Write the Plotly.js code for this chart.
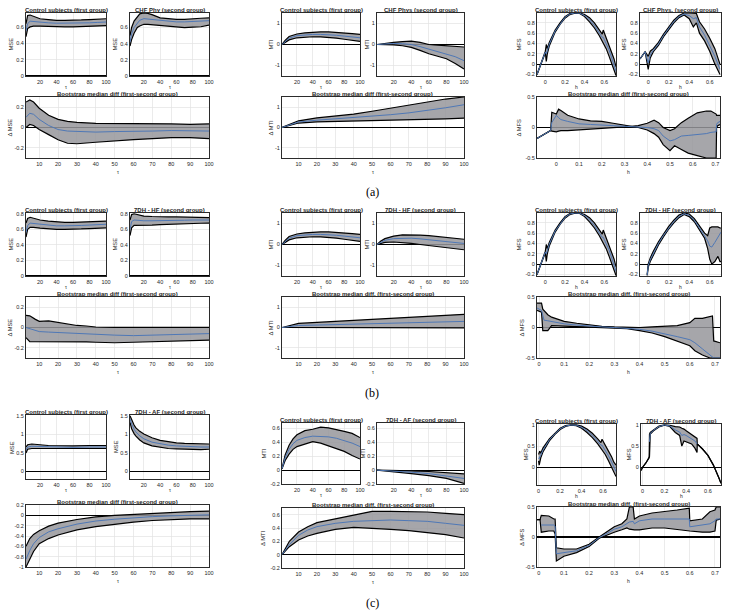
<!DOCTYPE html>
<html><head><meta charset="utf-8">
<script src="https://cdn.plot.ly/plotly-3.0.1.min.js"></script>
<style>html,body{margin:0;padding:0;background:#fff}#chart{width:730px;height:613px}</style>
</head><body><div id="chart"></div>
<script>
// ================= DATA =================
// ---- MSE (tau axis) ----
const tauMseCtrlA = [3,5,8,12,20,30,40,50,60,70,80,90,100];
const mseCtrlAUp  = [0.64,0.74,0.745,0.73,0.70,0.69,0.68,0.68,0.68,0.685,0.69,0.695,0.70];
const mseCtrlAMed = [0.55,0.64,0.67,0.665,0.655,0.65,0.645,0.645,0.645,0.645,0.65,0.655,0.66];
const mseCtrlALo  = [0.48,0.58,0.60,0.61,0.61,0.605,0.60,0.60,0.60,0.605,0.61,0.612,0.615];

const tauMseChf = [3,5,8,12,15,20,25,30,40,50,60,70,80,90,100];
const mseChfUp  = [0.50,0.60,0.68,0.74,0.77,0.78,0.775,0.76,0.72,0.71,0.70,0.70,0.71,0.715,0.72];
const mseChfMed = [0.42,0.52,0.60,0.66,0.69,0.71,0.705,0.70,0.685,0.675,0.67,0.67,0.675,0.68,0.685];
const mseChfLo  = [0.37,0.45,0.53,0.60,0.62,0.64,0.64,0.635,0.625,0.615,0.61,0.60,0.605,0.61,0.63];

const tauMseDiffA = [3,5,7,10,15,20,25,30,40,50,60,70,80,90,100];
const mseDiffAUp  = [0.25,0.27,0.25,0.19,0.12,0.08,0.06,0.05,0.04,0.04,0.04,0.035,0.035,0.03,0.035];
const mseDiffAMed = [0.10,0.14,0.13,0.08,0.02,-0.02,-0.035,-0.04,-0.045,-0.04,-0.04,-0.035,-0.03,-0.03,-0.035];
const mseDiffALo  = [0.00,0.03,0.02,-0.02,-0.07,-0.12,-0.155,-0.16,-0.145,-0.13,-0.12,-0.11,-0.10,-0.10,-0.11];

const tauMseB = [3,5,8,12,20,30,40,50,60,70,80,90,100];
const mseCtrlBUp  = [0.68,0.74,0.755,0.745,0.72,0.705,0.695,0.69,0.69,0.695,0.70,0.70,0.705];
const mseCtrlBMed = [0.56,0.65,0.68,0.675,0.665,0.655,0.645,0.645,0.645,0.65,0.655,0.66,0.665];
const mseCtrlBLo  = [0.50,0.60,0.625,0.625,0.615,0.605,0.60,0.60,0.60,0.605,0.61,0.615,0.62];
const mseHfUp  = [0.72,0.79,0.80,0.79,0.77,0.765,0.76,0.76,0.76,0.758,0.755,0.752,0.75];
const mseHfMed = [0.60,0.70,0.72,0.715,0.71,0.71,0.71,0.712,0.715,0.717,0.72,0.72,0.72];
const mseHfLo  = [0.52,0.62,0.65,0.65,0.65,0.655,0.66,0.665,0.67,0.672,0.675,0.678,0.68];

const tauMseDiffB = [3,5,8,10,15,20,25,30,35,40,50,60,70,80,90,100];
const mseDiffBUp  = [0.12,0.115,0.08,0.06,0.065,0.05,0.04,0.02,0.015,0.005,0.002,0.002,0.002,0.002,0.002,0.002];
const mseDiffBMed = [0.0,-0.01,-0.03,-0.04,-0.045,-0.05,-0.055,-0.06,-0.065,-0.07,-0.075,-0.08,-0.075,-0.07,-0.065,-0.06];
const mseDiffBLo  = [-0.10,-0.14,-0.14,-0.14,-0.135,-0.135,-0.138,-0.14,-0.142,-0.145,-0.15,-0.145,-0.14,-0.135,-0.13,-0.125];

const tauMseCtrlC = [3,5,10,15,20,30,40,50,60,80,100];
const mseCtrlCUp  = [0.66,0.72,0.74,0.74,0.72,0.70,0.69,0.69,0.69,0.70,0.70];
const mseCtrlCMed = [0.58,0.66,0.68,0.675,0.67,0.66,0.65,0.65,0.65,0.66,0.66];
const mseCtrlCLo  = [0.50,0.60,0.62,0.62,0.62,0.61,0.60,0.60,0.60,0.61,0.62];

const tauMseAf = [3,5,8,10,15,20,30,40,50,60,70,80,90,100];
const mseAfUp  = [1.50,1.38,1.25,1.18,1.08,1.01,0.91,0.84,0.80,0.77,0.755,0.745,0.74,0.74];
const mseAfMed = [1.42,1.28,1.14,1.07,0.96,0.88,0.79,0.74,0.71,0.69,0.675,0.665,0.66,0.66];
const mseAfLo  = [1.32,1.15,1.02,0.96,0.85,0.77,0.69,0.65,0.62,0.61,0.60,0.59,0.59,0.60];

const tauMseDiffC = [3,5,7,10,15,20,30,40,50,60,70,80,90,100];
const mseDiffCUp  = [-0.60,-0.45,-0.37,-0.30,-0.21,-0.15,-0.08,-0.03,0.0,0.02,0.04,0.06,0.07,0.08];
const mseDiffCMed = [-0.85,-0.68,-0.55,-0.43,-0.32,-0.26,-0.17,-0.11,-0.075,-0.045,-0.025,-0.01,0.0,0.01];
const mseDiffCLo  = [-1.0,-0.85,-0.70,-0.55,-0.45,-0.38,-0.28,-0.22,-0.17,-0.13,-0.10,-0.08,-0.07,-0.07];

// ---- MTI (tau axis) ----
const tauMti = [1,5,10,20,30,40,50,60,70,80,90,100];
const mtiCtrlUp  = [0,0.2,0.38,0.5,0.55,0.58,0.6,0.6,0.58,0.55,0.52,0.48];
const mtiCtrlMed = [0,0.15,0.3,0.42,0.46,0.48,0.48,0.47,0.44,0.4,0.36,0.32];
const mtiCtrlLo  = [0,0.1,0.22,0.32,0.36,0.37,0.36,0.34,0.3,0.25,0.2,0.15];

const tauMtiChf = [1,10,20,30,40,50,60,70,80,90,100];
const mtiChfUp  = [0,0.06,0.1,0.14,0.16,0.1,0.0,-0.03,-0.06,-0.09,-0.12];
const mtiChfMed = [0,0.03,0.05,0.04,0.0,-0.1,-0.22,-0.33,-0.43,-0.58,-0.77];
const mtiChfLo  = [0,0.0,-0.02,-0.06,-0.14,-0.28,-0.44,-0.56,-0.68,-0.9,-1.17];

const mtiDiffAUp  = [0,0.15,0.33,0.47,0.56,0.66,0.8,0.95,1.1,1.25,1.4,1.5];
const mtiDiffAMed = [0,0.12,0.27,0.36,0.42,0.48,0.55,0.63,0.72,0.83,0.97,1.12];
const mtiDiffALo  = [0,0.1,0.22,0.28,0.3,0.31,0.31,0.33,0.35,0.38,0.42,0.46];

const mtiHfUp  = [0,0.15,0.28,0.4,0.46,0.47,0.45,0.42,0.38,0.33,0.28,0.25];
const mtiHfMed = [0,0.1,0.2,0.28,0.3,0.3,0.27,0.23,0.18,0.13,0.08,0.05];
const mtiHfLo  = [0,0.05,0.1,0.12,0.1,0.05,0.0,-0.05,-0.1,-0.15,-0.2,-0.25];

const mtiDiffBUp  = [0,0.1,0.2,0.25,0.3,0.35,0.4,0.45,0.5,0.55,0.6,0.65];
const mtiDiffBMed = [0,0.05,0.1,0.12,0.14,0.17,0.2,0.22,0.24,0.26,0.28,0.3];
const mtiDiffBLo  = [0,0.0,-0.01,-0.02,-0.02,-0.02,-0.02,-0.02,-0.02,-0.02,-0.02,-0.02];

const tauMtiC = [1,3,5,10,15,20,30,40,50,60,70,80,90,100];
const mtiCtrlCUp  = [0.02,0.12,0.22,0.36,0.45,0.51,0.57,0.59,0.62,0.61,0.59,0.56,0.53,0.47];
const mtiCtrlCMed = [0.02,0.1,0.18,0.3,0.38,0.43,0.47,0.49,0.49,0.48,0.46,0.43,0.39,0.34];
const mtiCtrlCLo  = [0.02,0.08,0.14,0.23,0.3,0.34,0.38,0.41,0.39,0.35,0.32,0.27,0.21,0.16];

const tauMtiAf = [1,20,40,60,80,100];
const mtiAfUp  = [0,0.0,-0.01,-0.02,-0.04,-0.055];
const mtiAfMed = [0,-0.01,-0.03,-0.05,-0.08,-0.12];
const mtiAfLo  = [0,-0.02,-0.05,-0.08,-0.12,-0.19];

const tauMtiDiffC = [1,5,10,15,20,30,40,50,60,70,80,90,100];
const mtiDiffCUp  = [0,0.2,0.34,0.42,0.48,0.54,0.59,0.65,0.65,0.65,0.64,0.62,0.6];
const mtiDiffCMed = [0,0.15,0.29,0.37,0.42,0.47,0.5,0.515,0.52,0.51,0.5,0.47,0.44];
const mtiDiffCLo  = [0,0.12,0.22,0.28,0.32,0.38,0.41,0.4,0.38,0.36,0.33,0.3,0.25];

// ---- MFS (h axis) ----
const hMfsCtrl   = [-0.085,-0.04,0.0,0.01,0.02,0.04,0.1,0.15,0.2,0.25,0.3,0.35,0.4,0.45,0.5,0.55,0.58,0.59,0.62,0.65,0.68,0.7,0.72];
const mfsCtrlUp  = [-0.2,0.03,0.25,0.38,0.3,0.42,0.66,0.8,0.92,0.98,0.99,0.99,0.96,0.9,0.8,0.66,0.58,0.66,0.5,0.38,0.22,0.1,-0.05];
const mfsCtrlMed = [-0.2,0.03,0.235,0.2,0.25,0.385,0.64,0.785,0.905,0.97,0.99,0.985,0.94,0.86,0.75,0.6,0.52,0.52,0.4,0.27,0.1,-0.01,-0.14];
const mfsCtrlLo  = [-0.2,0.03,0.22,0.05,0.2,0.35,0.62,0.77,0.89,0.96,0.985,0.98,0.92,0.82,0.7,0.55,0.45,0.42,0.3,0.15,0.0,-0.12,-0.22];

const hMfsChf   = [-0.08,-0.03,0.0,0.02,0.05,0.1,0.15,0.2,0.25,0.3,0.35,0.4,0.44,0.47,0.5,0.55,0.6,0.65,0.7];
const mfsChfUp  = [0.1,0.24,0.15,0.25,0.3,0.42,0.58,0.71,0.85,0.94,0.99,0.99,0.98,0.98,0.82,0.68,0.5,0.3,0.0];
const mfsChfMed = [0.1,0.24,0.02,0.18,0.27,0.39,0.555,0.685,0.825,0.92,0.97,0.94,0.88,0.9,0.72,0.56,0.37,0.15,-0.1];
const mfsChfLo  = [0.1,0.24,-0.1,0.12,0.24,0.36,0.53,0.66,0.8,0.9,0.95,0.88,0.72,0.8,0.6,0.45,0.25,0.0,-0.2];

const hMfsDiffA   = [-0.085,-0.05,-0.025,-0.02,0.0,0.01,0.02,0.05,0.1,0.15,0.2,0.25,0.3,0.33,0.36,0.4,0.43,0.45,0.47,0.5,0.52,0.55,0.58,0.62,0.66,0.68,0.703,0.705,0.71,0.72];
const mfsDiffAUp  = [-0.18,-0.11,-0.05,0.25,0.22,0.3,0.28,0.2,0.14,0.11,0.1,0.07,0.04,0.02,0.03,0.07,0.12,0.08,0.0,-0.05,-0.02,0.08,0.15,0.24,0.27,0.27,0.22,0.2,0.2,0.2];
const mfsDiffAMed = [-0.18,-0.11,-0.05,0.08,0.2,0.16,0.13,0.1,0.06,0.05,0.04,0.03,0.02,0.02,0.015,0.0,-0.02,-0.05,-0.14,-0.22,-0.2,-0.14,-0.13,-0.12,-0.1,-0.08,-0.07,0.05,0.08,0.1];
const mfsDiffALo  = [-0.18,-0.11,-0.05,-0.06,-0.07,-0.06,-0.05,-0.05,-0.04,-0.03,-0.02,0.0,0.01,0.02,0.0,-0.04,-0.1,-0.16,-0.28,-0.38,-0.3,-0.36,-0.42,-0.46,-0.5,-0.5,-0.5,0.0,0.03,0.05];

const hMfsHf   = [-0.01,0.0,0.02,0.05,0.1,0.15,0.2,0.25,0.3,0.35,0.4,0.45,0.5,0.55,0.58,0.6,0.62,0.65,0.68,0.7,0.71];
const mfsHfUp  = [-0.2,0.0,0.12,0.25,0.43,0.59,0.73,0.85,0.95,0.99,0.97,0.88,0.74,0.6,0.55,0.7,0.72,0.72,0.72,0.7,0.7];
const mfsHfMed = [-0.21,-0.03,0.085,0.215,0.4,0.56,0.705,0.825,0.925,0.975,0.945,0.85,0.7,0.55,0.45,0.35,0.33,0.42,0.52,0.6,0.62];
const mfsHfLo  = [-0.22,-0.06,0.05,0.18,0.37,0.53,0.68,0.8,0.9,0.96,0.92,0.82,0.67,0.5,0.3,0.1,0.0,0.05,0.15,0.05,0.05];

const hMfsDiffB   = [-0.008,0.01,0.015,0.02,0.035,0.05,0.1,0.15,0.2,0.25,0.3,0.35,0.4,0.45,0.5,0.55,0.6,0.62,0.65,0.68,0.69,0.695,0.72];
const mfsDiffBUp  = [0.4,0.4,0.3,0.28,0.21,0.17,0.1,0.07,0.04,0.02,0.01,0.0,0.0,0.01,0.02,0.03,0.08,0.15,0.15,0.18,0.19,-0.22,-0.25];
const mfsDiffBMed = [0.32,0.28,0.2,0.12,0.11,0.1,0.06,0.04,0.02,0.01,0.0,-0.01,-0.03,-0.06,-0.1,-0.15,-0.2,-0.25,-0.35,-0.45,-0.47,-0.5,-0.5];
const mfsDiffBLo  = [0.28,0.25,-0.05,-0.05,-0.05,0.03,0.02,0.01,0.0,-0.01,-0.01,-0.02,-0.05,-0.09,-0.15,-0.22,-0.3,-0.38,-0.45,-0.5,-0.5,-0.5,-0.5];

const hMfsCtrlC   = [0.0,0.005,0.01,0.02,0.04,0.1,0.15,0.2,0.25,0.3,0.35,0.4,0.45,0.5,0.55,0.58,0.59,0.62,0.65,0.68,0.7,0.72];
const mfsCtrlCUp  = [0.3,0.35,0.38,0.33,0.45,0.67,0.8,0.92,0.98,1.0,1.0,0.97,0.9,0.8,0.67,0.58,0.66,0.5,0.38,0.24,0.12,0.05];
const mfsCtrlCMed = [0.22,0.2,0.24,0.28,0.4,0.645,0.785,0.905,0.97,0.995,0.99,0.945,0.86,0.75,0.61,0.52,0.52,0.4,0.27,0.12,0.0,-0.1];
const mfsCtrlCLo  = [0.15,0.05,0.1,0.22,0.36,0.62,0.77,0.89,0.96,0.99,0.98,0.92,0.82,0.7,0.55,0.45,0.42,0.3,0.15,0.0,-0.12,-0.22];

const hMfsAf   = [-0.015,0.0,0.03,0.06,0.063,0.07,0.1,0.15,0.2,0.25,0.3,0.34,0.36,0.38,0.4,0.45,0.48,0.5,0.502,0.55,0.6,0.65,0.7,0.72];
const mfsAfUp  = [-0.08,0.0,0.1,0.22,0.78,0.82,0.88,0.97,1.0,0.99,0.96,0.95,0.92,0.9,0.86,0.77,0.72,0.68,0.55,0.43,0.28,0.05,-0.25,-0.38];
const mfsAfMed = [null,null,null,null,0.6,0.8,0.87,0.96,0.995,0.975,0.88,0.83,0.75,0.77,0.75,0.68,0.62,0.55,null,null,null,null,null,null];
const mfsAfLo  = [-0.08,0.0,0.1,0.22,0.25,0.78,0.86,0.95,0.99,0.96,0.82,0.75,0.5,0.62,0.6,0.55,0.45,0.35,0.55,0.43,0.28,0.05,-0.25,-0.38];

const hMfsDiffC   = [-0.007,0.005,0.01,0.04,0.06,0.065,0.07,0.1,0.15,0.2,0.24,0.28,0.3,0.33,0.35,0.36,0.375,0.38,0.4,0.45,0.5,0.55,0.598,0.6,0.65,0.68,0.7,0.705,0.72];
const mfsDiffCUp  = [0.29,0.29,0.36,0.35,0.3,0.3,-0.18,-0.2,-0.2,-0.12,0.0,0.12,0.17,0.22,0.3,0.5,0.5,0.3,0.35,0.4,0.42,0.45,0.48,0.27,0.3,0.42,0.45,0.5,0.5];
const mfsDiffCMed = [null,null,0.2,0.2,0.2,0.18,-0.28,-0.26,-0.23,-0.14,-0.01,0.08,0.13,0.17,0.22,0.25,0.26,0.22,0.27,0.3,0.3,0.3,0.3,0.17,0.2,0.22,0.27,0.3,0.3];
const mfsDiffCLo  = [0.29,0.29,0.08,0.1,0.1,0.05,-0.4,-0.32,-0.26,-0.16,-0.02,0.05,0.08,0.12,0.15,0.13,0.12,0.12,0.12,0.15,0.15,0.12,0.1,0.1,0.08,0.08,0.1,0.28,0.3];

// ---- tick labels ----
const tickTauTop = [20,40,60,80,100];
const tickTauBot = [10,20,30,40,50,60,70,80,90,100];
const tickH4 = [0,0.2,0.4,0.6];
const tickH8 = [0,0.1,0.2,0.3,0.4,0.5,0.6,0.7];
const tickMseTopA = [0,0.2,0.4,0.6];
const tickMseTopB = [0,0.2,0.4,0.6,0.8];
const tickMseTopC = [0,0.5,1,1.5];
const tickMseDiffAB = [-0.2,0,0.2];
const tickMseDiffC = [-1,-0.8,-0.6,-0.4,-0.2,0,0.2];
const tickMtiAB = [-1,0,1];
const tickMtiC = [-0.2,0,0.2,0.4,0.6];
const tickMfsTopAB = [-0.2,0,0.2,0.4,0.6,0.8];
const tickMfsTopC = [0,0.5,1];
const tickMfsDiff = [-0.5,0,0.5];

// ================= LAYOUT / BUILD =================
const W = 730, H = 613;
const CTRL = 'Control subjects (first group)';
const BS = 'Bootstrap median diff (first-second group)';
const BSd = 'Bootstrap median diff. (first-second group)';

function P(box, x, up, med, lo, xr, yr, xt, yt, title, ylab, ylabX) {
  return {box, x, up, med, lo, xr, yr, xt, yt, title, ylab, ylabX};
}
const panels = [
  // row a - MSE
  P([26,106,13,76], tauMseCtrlA, mseCtrlAUp, mseCtrlAMed, mseCtrlALo, [3,100], [0,0.77], tickTauTop, tickMseTopA, CTRL, 'MSE', 10),
  P([130,209,13,76], tauMseChf, mseChfUp, mseChfMed, mseChfLo, [3,100], [0,0.78], tickTauTop, tickMseTopA, 'CHF Phy (second group)', 'MSE', 114),
  P([26,209,97,158], tauMseDiffA, mseDiffAUp, mseDiffAMed, mseDiffALo, [3,100], [-0.3,0.3], tickTauBot, tickMseDiffAB, BS, 'Δ MSE', 9),
  // row a - MTI
  P([282,360,13,76], tauMti, mtiCtrlUp, mtiCtrlMed, mtiCtrlLo, [1,100], [-1.5,1.5], tickTauTop, tickMtiAB, CTRL, 'MTI', 270),
  P([377,464,13,76], tauMtiChf, mtiChfUp, mtiChfMed, mtiChfLo, [1,100], [-1.5,1.5], tickTauTop, tickMtiAB, 'CHF Phys (second group)', 'MTI', 366),
  P([282,464,97,158], tauMti, mtiDiffAUp, mtiDiffAMed, mtiDiffALo, [1,100], [-1.5,1.5], tickTauBot, tickMtiAB, BS, 'Δ MTI', 270),
  // row a - MFS
  P([537,616,13,76], hMfsCtrl, mfsCtrlUp, mfsCtrlMed, mfsCtrlLo, [-0.085,0.72], [-0.23,0.99], tickH4, tickMfsTopAB, CTRL, 'MFS', 518),
  P([640,721,13,76], hMfsChf, mfsChfUp, mfsChfMed, mfsChfLo, [-0.08,0.71], [-0.23,0.99], tickH4, tickMfsTopAB, 'CHF Phys. (second group)', 'MFS', 623),
  P([537,720,97,158], hMfsDiffA, mfsDiffAUp, mfsDiffAMed, mfsDiffALo, [-0.085,0.72], [-0.5,0.5], tickH8, tickMfsDiff, BS, 'Δ MFS', 518),
  // row b - MSE
  P([26,106,213,276], tauMseB, mseCtrlBUp, mseCtrlBMed, mseCtrlBLo, [3,100], [0,0.81], tickTauTop, tickMseTopB, CTRL, 'MSE', 10),
  P([130,209,213,276], tauMseB, mseHfUp, mseHfMed, mseHfLo, [3,100], [0,0.81], tickTauTop, tickMseTopB, '7DH - HF (second group)', 'MSE', 114),
  P([26,209,297,358], tauMseDiffB, mseDiffBUp, mseDiffBMed, mseDiffBLo, [3,100], [-0.3,0.3], tickTauBot, tickMseDiffAB, BS, 'Δ MSE', 9),
  // row b - MTI
  P([282,360,213,276], tauMti, mtiCtrlUp, mtiCtrlMed, mtiCtrlLo, [1,100], [-1.5,1.5], tickTauTop, tickMtiAB, CTRL, 'MTI', 270),
  P([377,464,213,276], tauMti, mtiHfUp, mtiHfMed, mtiHfLo, [1,100], [-1.5,1.5], tickTauTop, tickMtiAB, '7DH - HF (second group)', 'MTI', 366),
  P([282,464,297,358], tauMti, mtiDiffBUp, mtiDiffBMed, mtiDiffBLo, [1,100], [-1.5,1.5], tickTauBot, tickMtiAB, BSd, 'Δ MTI', 270),
  // row b - MFS
  P([537,616,213,276], hMfsCtrl, mfsCtrlUp, mfsCtrlMed, mfsCtrlLo, [-0.085,0.72], [-0.23,0.99], tickH4, tickMfsTopAB, CTRL, 'MFS', 518),
  P([640,721,213,276], hMfsHf, mfsHfUp, mfsHfMed, mfsHfLo, [-0.08,0.71], [-0.23,0.99], tickH4, tickMfsTopAB, '7DH - HF (second group)', 'MFS', 623),
  P([537,720,297,358], hMfsDiffB, mfsDiffBUp, mfsDiffBMed, mfsDiffBLo, [-0.008,0.72], [-0.5,0.5], tickH8, tickMfsDiff, BSd, 'Δ MFS', 521),
  // row c - MSE
  P([26,106,415,479], tauMseCtrlC, mseCtrlCUp, mseCtrlCMed, mseCtrlCLo, [3,100], [-0.2,1.52], tickTauTop, tickMseTopC, CTRL, 'MSE', 12),
  P([130,209,415,479], tauMseAf, mseAfUp, mseAfMed, mseAfLo, [3,100], [-0.2,1.52], tickTauTop, tickMseTopC, '7DH - AF (second group)', 'MSE', 116),
  P([26,209,505,567], tauMseDiffC, mseDiffCUp, mseDiffCMed, mseDiffCLo, [3,100], [-1,0.2], tickTauBot, tickMseDiffC, BS, '', 0),
  // row c - MTI
  P([282,360,423,484], tauMtiC, mtiCtrlCUp, mtiCtrlCMed, mtiCtrlCLo, [1,100], [-0.2,0.68], tickTauTop, tickMtiC, CTRL, 'MTI', 263),
  P([377,464,423,484], tauMtiAf, mtiAfUp, mtiAfMed, mtiAfLo, [1,100], [-0.2,0.68], tickTauTop, tickMtiC, '7DH - AF (second group)', 'MTI', 362),
  P([282,464,508,568], tauMtiDiffC, mtiDiffCUp, mtiDiffCMed, mtiDiffCLo, [1,100], [-0.2,0.7], tickTauBot, tickMtiC, BSd, 'Δ MTI', 263),
  // row c - MFS
  P([537,616,424,485], hMfsCtrlC, mfsCtrlCUp, mfsCtrlCMed, mfsCtrlCLo, [-0.015,0.72], [-0.42,1.02], tickH4, tickMfsTopC, CTRL, 'MFS', 525),
  P([641,721,424,485], hMfsAf, mfsAfUp, mfsAfMed, mfsAfLo, [-0.015,0.72], [-0.42,1.02], tickH4, tickMfsTopC, '7DH - AF (second group)', 'MFS', 628),
  P([537,720,507,567], hMfsDiffC, mfsDiffCUp, mfsDiffCMed, mfsDiffCLo, [-0.007,0.72], [-0.5,0.5], tickH8, tickMfsDiff, BSd, 'Δ MFS', 522),
];

const FONT = 'Liberation Sans, Arial, sans-serif';
const FILL = 'rgba(150,150,155,0.85)';
const BLUE = '#4f78b6';
const INK = '#262626';
const traces = [];
const layout = {
  width: W, height: H, margin: {l:0, r:0, t:0, b:0},
  paper_bgcolor: '#fff', plot_bgcolor: '#fff', showlegend: false,
  font: {family: FONT, size: 5.5, color: INK},
  annotations: []
};
const px = v => v / W, py = v => 1 - v / H;

panels.forEach((p, i) => {
  const n = i + 1, xa = 'x' + (n === 1 ? '' : n), ya = 'y' + (n === 1 ? '' : n);
  traces.push({x: p.x, y: p.lo, xaxis: xa, yaxis: ya, type: 'scatter', mode: 'lines',
    line: {color: '#000', width: 1.2}, hoverinfo: 'skip'});
  traces.push({x: p.x, y: p.up, xaxis: xa, yaxis: ya, type: 'scatter', mode: 'lines',
    fill: 'tonexty', fillcolor: FILL, line: {color: '#000', width: 1.2}, hoverinfo: 'skip'});
  traces.push({x: p.x, y: p.med, xaxis: xa, yaxis: ya, type: 'scatter', mode: 'lines',
    line: {color: BLUE, width: 1}, connectgaps: false, hoverinfo: 'skip'});
  const [x0, x1, y0, y1] = p.box;
  const isBottom = (i % 3) === 2;
  const axCommon = {showline: true, mirror: true, linecolor: '#2b2b2b', linewidth: 1,
    showgrid: true, gridcolor: '#e2e2e2', gridwidth: 0.7, ticks: '', fixedrange: true,
    tickfont: {family: FONT, size: 5.5, color: INK}};
  layout['xaxis' + (n === 1 ? '' : n)] = Object.assign({}, axCommon, {
    domain: [px(x0), px(x1)], anchor: ya, range: p.xr, zeroline: false,
    tickmode: 'array', tickvals: p.xt, ticktext: p.xt.map(String)});
  layout['yaxis' + (n === 1 ? '' : n)] = Object.assign({}, axCommon, {
    domain: [py(y1), py(y0)], anchor: xa, range: p.yr, zeroline: true,
    zerolinecolor: '#000', zerolinewidth: 1.2,
    tickmode: 'array', tickvals: p.yt, ticktext: p.yt.map(String)});
  const cx = (x0 + x1) / 2, cy = (y0 + y1) / 2;
  layout.annotations.push({xref: 'paper', yref: 'paper', x: px(cx), y: py(y0),
    text: '<b>' + p.title + '</b>', showarrow: false, xanchor: 'center', yanchor: 'bottom',
    borderpad: 0, borderwidth: 0, font: {family: FONT, size: 6, color: INK}});
  if (p.ylab) layout.annotations.push({xref: 'paper', yref: 'paper', x: px(p.ylabX), y: py(cy),
    text: p.ylab, showarrow: false, textangle: -90, xanchor: 'center', yanchor: 'middle',
    borderpad: 0, borderwidth: 0, font: {family: FONT, size: 5.8, color: INK}});
  const lab = (i % 9) >= 6 ? 'h' : 'τ';
  layout.annotations.push({xref: 'paper', yref: 'paper', x: px(cx),
    y: py(y1 + (isBottom ? 14 : 11)), text: lab, showarrow: false,
    xanchor: 'center', yanchor: 'middle', borderpad: 0, borderwidth: 0,
    font: {family: FONT, size: 5, color: INK}});
});
[['(a)', 192], ['(b)', 393], ['(c)', 603]].forEach(([t, y]) => {
  layout.annotations.push({xref: 'paper', yref: 'paper', x: px(372), y: py(y), text: t,
    showarrow: false, xanchor: 'center', yanchor: 'middle',
    font: {family: 'Liberation Serif, DejaVu Serif, serif', size: 12, color: '#000'}});
});

Plotly.newPlot('chart', traces, layout, {staticPlot: true, displayModeBar: false});
</script></body></html>
